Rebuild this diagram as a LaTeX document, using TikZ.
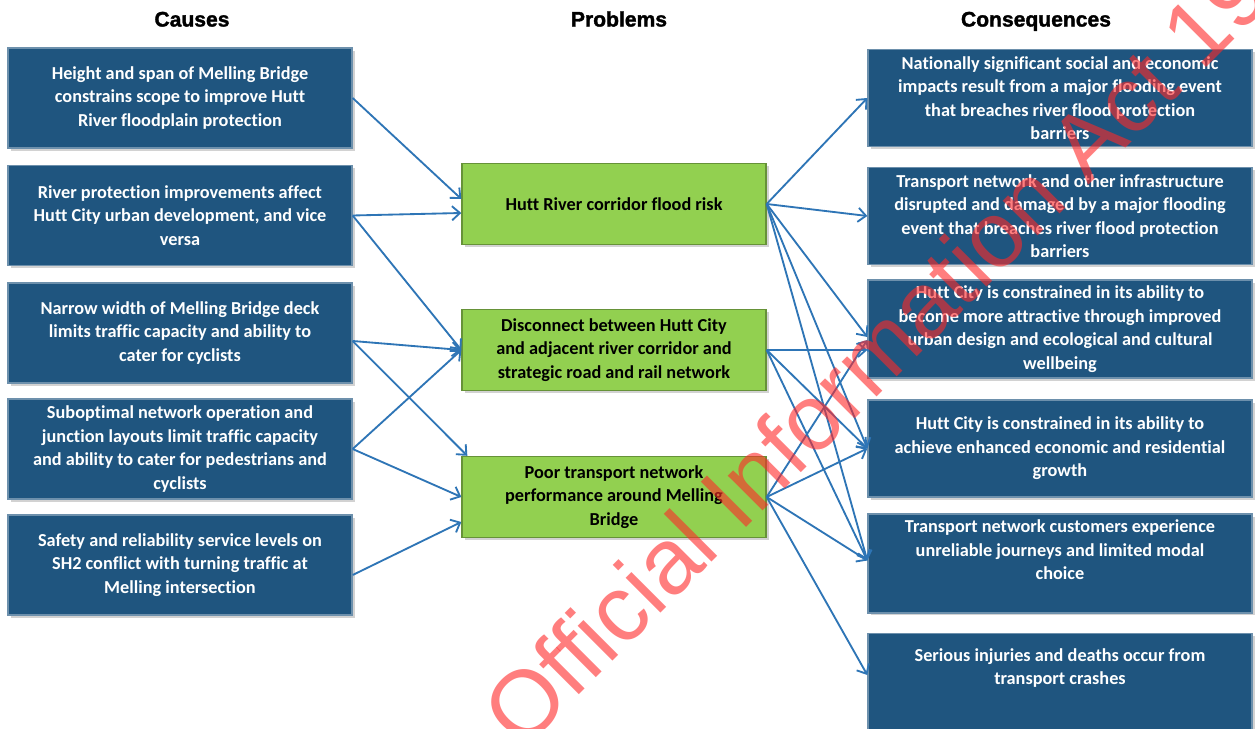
\documentclass[tikz,border=0pt]{standalone}
\usepackage{fontspec}
\setmainfont{Carlito}[Ligatures=CommonOff]
\newfontfamily\headfont{Liberation Sans}[FakeBold=1.6]
\newfontfamily\wmfont{Liberation Sans}
\usepackage{tikz}
\usetikzlibrary{arrows.meta,positioning,shadows,calc}
\usepackage{xcolor}
\definecolor{boxblue}{RGB}{31,85,127}
\definecolor{boxgreen}{RGB}{146,208,80}
\definecolor{linkblue}{RGB}{46,117,182}
\definecolor{wmred}{RGB}{255,40,40}

\tikzset{
  causebox/.style={draw=boxblue!65!white,fill=boxblue,line width=0.8pt,
    minimum width=6.88cm,minimum height=2.0cm,align=center,text=white,
    font=\fontsize{10.4}{13.4}\selectfont\bfseries,
    drop shadow={shadow xshift=1.5pt,shadow yshift=-1.5pt,opacity=0.35}},
  conbox/.style={causebox,minimum width=7.68cm,minimum height=1.94cm},
  probbox/.style={draw=boxgreen!70!black,fill=boxgreen,line width=0.8pt,
    minimum width=6.08cm,minimum height=1.62cm,align=center,text=black,
    font=\fontsize{10.4}{13.4}\selectfont\bfseries,
    drop shadow={shadow xshift=1.5pt,shadow yshift=-1.5pt,opacity=0.35}},
  head/.style={font=\headfont\fontsize{12}{14}\selectfont\bfseries,
    text height=8.6pt,text depth=0pt},
  link/.style={-{Straight Barb[length=4.5pt,width=8pt]},draw=linkblue,line width=1.05pt},
  wmark/.style={text=wmred,text opacity=0.6,font=\wmfont\fontsize{53}{60}\selectfont}
}

\begin{document}
\begin{tikzpicture}[x=0.02cm,y=-0.02cm]
\useasboundingbox (0,0) rectangle (1255,729);
\clip (0,0) rectangle (1255,729);
\fill[white] (0,0) rectangle (1255,729);

% column heads
\node[head] (hc) at (192,19) {Causes};
\node[head] (hp) at (619,19) {Problems};
\node[head] (hk) at (1036,19) {Consequences};

% causes
\node[causebox] (C1) at (180,98) {Height and span of Melling Bridge\\constrains scope to improve Hutt\\River floodplain protection};
\node[causebox] (C2) at (180,215.5) {River protection improvements affect\\Hutt City urban development, and vice\\versa};
\node[causebox] (C3) at (180,333) {Narrow width of Melling Bridge deck\\limits traffic capacity and ability to\\cater for cyclists};
\node[causebox] (C4) at (180,449) {Suboptimal network  operation and\\junction layouts limit traffic capacity\\and ability to cater for pedestrians and\\cyclists};
\node[causebox] (C5) at (180,565) {Safety and reliability service levels on\\SH2 conflict with turning traffic at\\Melling intersection};

% problems
\node[probbox] (P1) at (614,204) {Hutt River corridor  flood risk};
\node[probbox] (P2) at (614,350) {Disconnect between Hutt City\\and adjacent river corridor and\\strategic road and rail network};
\node[probbox] (P3) at (614,497) {Poor transport network\\performance around Melling\\Bridge};

% consequences
\node[conbox] (K1) at (1060,98) {Nationally significant social and economic\\impacts result from a major flooding event\\that breaches river flood protection\\barriers};
\node[conbox] (K2) at (1060,216) {Transport network and other infrastructure\\disrupted and damaged by a major flooding\\event that breaches river flood protection\\barriers};
\node[conbox] (K3) at (1060,329) {Hutt City is constrained in its ability to\\become more attractive through improved\\urban design and ecological and cultural\\wellbeing};
\node[conbox] (K4) at (1060,448.5) {Hutt City is constrained in its ability to\\achieve enhanced economic and residential\\growth};
\node[conbox,text depth=0.54cm] (K5) at (1060,563.5) {Transport network customers experience\\unreliable journeys and limited modal\\choice};
\node[conbox,text depth=0.62cm] (K6) at (1060,682) {Serious injuries and deaths occur from\\transport crashes};

% causes -> problems
\draw[link] (C1.east) -- ([yshift=0.1cm]P1.west);
\draw[link] (C2.east) -- ([yshift=-0.18cm]P1.west);
\draw[link] (C2.east) -- (P2.west);
\draw[link] ([yshift=-0.16cm]C3.east) -- (P2.west);
\draw[link] ([yshift=-0.16cm]C3.east) -- ([xshift=0.12cm]P3.north west);
\draw[link] (C4.east) -- (P2.west);
\draw[link] (C4.east) -- (P3.west);
\draw[link] ([yshift=-0.2cm]C5.east) -- ([yshift=-0.5cm]P3.west);

% problems -> consequences
\draw[link] (P1.east) -- (K1.west);
\draw[link] (P1.east) -- (K2.west);
\draw[link] (P1.east) -- ([yshift=-0.16cm]K3.west);
\draw[link] (P1.east) -- (K4.west);
\draw[link] (P1.east) -- ([yshift=0.06cm]K5.west);
\draw[link] (P2.east) -- ([yshift=-0.42cm]K3.west);
\draw[link] (P2.east) -- (K4.west);
\draw[link] (P2.east) -- ([yshift=0.06cm]K5.west);
\draw[link] (P3.east) -- ([yshift=-0.22cm]K3.west);
\draw[link] (P3.east) -- (K4.west);
\draw[link] (P3.east) -- ([yshift=0.06cm]K5.west);
\draw[link] (P3.east) -- ([yshift=0.14cm]K6.west);

% watermark
\node[wmark,rotate=45,anchor=base west,inner sep=0pt] (wm) at (522,752) {Official Information Act 1982};
\end{tikzpicture}
\end{document}
